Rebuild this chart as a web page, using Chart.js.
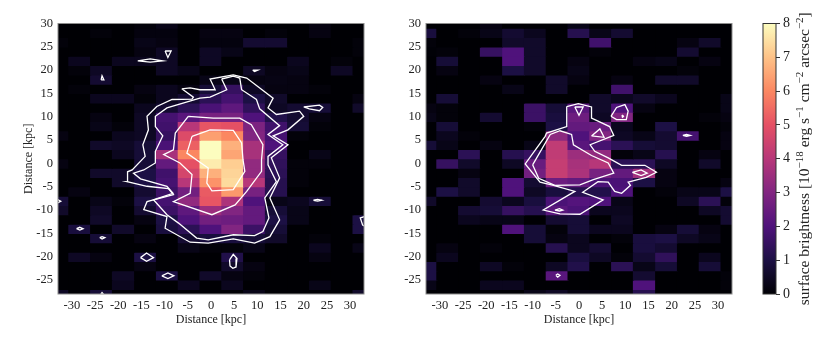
<!DOCTYPE html>
<html>
<head>
<meta charset="utf-8">
<script src="https://cdn.jsdelivr.net/npm/chart.js@4"></script>
<style>
  html, body { margin: 0; padding: 0; background: #fff; }
  canvas { position: absolute; top: 0; }
</style>
</head>
<body>
<canvas id="leftMap" style="left:0"></canvas>
<canvas id="rightMap" style="left:368px"></canvas>
<canvas id="colorBar" style="left:740px"></canvas>
<script>
// 셀 중심 좌표 (kpc)
const columnKpc = [-33, -28.3, -23.6, -18.9, -14.1, -9.4, -4.7, 0, 4.7, 9.4, 14.1, 18.9, 23.6, 28.3, 33];
const rowKpc = [30, 28, 26, 24, 22, 20, 18, 16, 14, 12, 10, 8, 6, 4, 2, 0, -2, -4, -6, -8, -10, -12, -14, -16, -18, -20, -22, -24, -26, -28];
const barTicks = [0, 1, 2, 3, 4, 5, 6, 7, 8];

// 왼쪽 패널 밝기, 위에서 아래로
const leftRows = [
  [0, 0, 0, 0, .1, .3, 0, 0, 0, 0, 0, 0, .2, 0, 0],
  [0, 0, .1, 0, .15, .15, 0, .2, .2, 0, .1, 0, .2, 0, 0],
  [.1, 0, 0, 0, .3, .2, 0, .15, .15, .7, .7, 0, 0, 0, .1],
  [0, 0, 0, 0, .2, .5, 0, .5, .3, 0, 0, 0, 0, 0, .1],
  [0, .4, 0, .4, .4, .5, 0, .5, 0, 0, 0, .4, 0, .1, 0],
  [0, .1, .5, 0, 0, .5, .3, 0, 0, .5, .2, .3, 0, .5, 0],
  [0, 0, .7, 0, 0, 0, 0, .3, .3, .2, .25, .2, 0, 0, 0],
  [0, .1, 0, 0, .2, .4, .2, .8, 1.5, .5, .2, .2, .1, 0, 0],
  [0, 0, .4, .4, .1, .4, .7, 1.3, 1.8, 1, .6, 0, 0, 0, .2],
  [0, 0, 0, 0, .4, .7, 1.3, 1.9, 2.3, 1.4, .5, .7, .8, 0, .6],
  [0, 0, .2, 0, .5, 1.8, 2.2, 2.8, 2.8, 2, 1.1, .7, .2, 0, 0],
  [0, 0, .3, .1, .5, 1.7, 4, 5.1, 5, 2.9, 1.7, .8, .1, 0, 0],
  [.2, 0, 0, .4, .5, 1.5, 4.8, 6.4, 6, 3, 1.8, .1, 0, 0, 0],
  [0, 0, .6, .5, .8, 1.9, 5.3, 8, 6.7, 3.7, 2, 0, 0, 0, 0],
  [0, 0, 0, .4, .8, 3.7, 6, 8, 6.5, 3.7, 1.5, 0, .3, 0, 0],
  [.2, 0, 0, 0, .8, 2.4, 5, 7.7, 7.2, 3.3, 1.4, .1, .1, 0, 0],
  [0, 0, .6, .6, 1, 1.7, 4.6, 6.7, 7.3, 3.3, 1.3, .1, 0, 0, 0],
  [0, 0, 0, .6, 1, 1.8, 4, 6.2, 7.4, 4, 1.2, .1, 0, 0, 0],
  [0, .2, 0, 0, .7, 1.6, 2.7, 5.2, 6.3, 2.8, 1.2, 0, 0, 0, 0],
  [.8, 0, .3, .1, 1, 1.8, 3.3, 5.1, 3.8, 2, .3, .4, .8, 0, 0],
  [.6, 0, .5, 0, .7, 1.6, 2.3, 3.5, 3, 2.4, .8, .3, 0, 0, 0],
  [0, 0, .6, 0, .2, 1, 2, 2.7, 2.6, 2.4, 1, .3, 0, 0, 1],
  [0, .9, 0, .6, 0, .9, 1.3, 2, 3, 1.6, .8, 0, 0, 0, 1],
  [0, 0, .8, 0, .2, 0, .7, .9, .9, .8, .6, 0, .1, 0, 0],
  [0, 0, 0, 0, 0, 0, .3, .1, .1, .3, 0, 0, .4, 0, .3],
  [0, .5, .2, 0, 1, 0, 0, 0, 1.1, 0, 0, 0, .2, 0, 0],
  [0, 0, 0, 0, .2, 0, 0, 0, .6, .2, 0, 0, 0, 0, 0],
  [0, 0, 0, .5, 0, 1, 0, .6, .2, .1, 0, 0, 0, 0, 0],
  [0, 0, 0, .4, 0, 0, .4, 0, .4, 0, 0, 0, .3, 0, 0],
  [.5, 0, .8, 0, 0, 0, 0, 0, 0, .3, 0, 0, 0, 0, .6]
];

// 오른쪽 패널 밝기
const rightRows = [
  [0, 0, 0, .2, 0, 0, 0, .3, 0, 0, 0, 0, 0, 0, 0],
  [.9, 0, .1, .3, .7, .4, 0, 1.2, .3, .7, 0, 0, 0, 0, 0],
  [.1, 0, 0, 0, .6, .6, 0, 0, 1.7, 0, 0, 0, .2, .6, 0],
  [.05, .1, 0, 1.5, 2, .6, 0, 0, .1, 0, 0, 0, .7, 0, 0],
  [0, .8, 0, 0, 2, .6, 0, .2, 0, 0, .2, .3, 0, .2, 0],
  [0, .2, 0, 0, 1, .6, 0, .3, 0, 0, 0, 0, .1, 0, 0],
  [0, 0, 0, .2, 0, 0, .6, .2, 0, .2, 0, .6, .6, 0, 0],
  [0, 0, 0, 0, .3, 0, .6, 0, 0, 1.7, 0, 0, 0, 0, 0],
  [0, .8, 0, 0, 0, 0, 0, 0, .6, .4, .6, .4, 0, 0, .3],
  [.2, .1, 0, 0, 0, 1.6, .8, 2.2, .6, 2, .2, 0, 0, 0, .3],
  [.3, .1, 0, .7, 0, 1.6, .9, 2.6, .5, 3, 0, 0, 0, .1, .2],
  [0, .8, 0, 0, 0, .1, 1, 2.4, 2.5, .4, 0, 1, 0, 0, .1],
  [0, .4, .1, 0, 0, 0, 3.2, 2, 3, .5, .3, .7, 1.8, 0, .2],
  [.8, .3, 0, .2, 0, .3, 4.2, 2.2, 1.8, 1.3, .8, .7, 0, 0, .2],
  [0, 0, 1.3, 0, 1.2, 1.5, 4.2, 3.5, 3.3, .1, .3, 1.2, 0, .2, 0],
  [0, 1.5, .6, 0, .5, 2.5, 4.3, 3.7, 4, 1.3, 1.3, .5, 0, .6, 0],
  [0, 0, .2, 0, 0, 2.7, 4.3, 3.8, 2.8, 2.4, 3.6, .2, 0, 0, 0],
  [0, 0, .6, 0, 2, .7, 2.6, 2.4, 1.9, 1.9, 1, .2, 0, 0, .2],
  [0, 1, .6, 0, 2, .5, .9, 1.2, 1.1, 2, 0, .1, .3, .3, 1],
  [.6, 0, 0, .7, .4, .9, 1.9, 2.1, 2, .3, 0, 0, .5, 1.3, .1],
  [0, 0, .7, .8, 1.5, 1.2, 2.2, 1.9, .4, .4, 0, 0, 0, .5, .7],
  [0, 0, .4, .3, .3, 0, .7, .8, 0, .5, 0, 0, 0, 0, .7],
  [0, 0, 0, 0, 2, .8, .1, .8, .4, .4, 0, .2, .8, .2, 0],
  [0, 0, 0, 0, 0, .8, .2, .4, 0, .1, .9, 1, .5, .3, 0],
  [0, .2, 0, .1, 0, 0, 1.2, .4, .7, 0, .9, .7, 0, 0, 0],
  [0, .4, 0, 0, 0, 0, 0, .9, .5, .1, .7, 1.4, 0, .4, 0],
  [1, 0, 0, .5, .1, 0, .5, 1.1, 0, 1.3, .3, .8, 0, .8, 0],
  [1, 0, 0, 0, 0, 0, 2.2, 0, 0, 0, .7, 0, 0, 0, .1],
  [.3, 0, 0, .4, .4, 0, 0, 0, 0, 0, 2, 0, 0, 0, .1],
  [0, 0, 0, 0, 0, .3, .5, .2, .2, .2, 1.2, 0, 0, 0, 0]
];

// 등고선 꼭짓점 (kpc)
const leftContours = [
  [[-6.3, 16], [-4.5, 16.2], [-2.4, 15.8], [.9, 15.8], [-.2, 18.1], [4.8, 19], [7.7, 18.3], [13.4, 14], [12.3, 11.9], [14.1, 10.5], [19.1, 11.2], [20, 10.1], [16.6, 7.2], [13.4, 5.9], [16.6, 4], [13, 1.2], [14.8, -3.1], [12.7, -7.4], [14.8, -12.1], [12.7, -15.7], [9.4, -17.1], [4.8, -16.2], [-.6, -17.1], [-4.5, -16.9], [-9.9, -13.9], [-9.5, -11.4], [-14.5, -9.9], [-13.8, -8.2], [-8.1, -6.7], [-9.2, -5.4], [-13.8, -4.9], [-18.1, -3.9], [-18, -1.8], [-17, -1.4], [-14.2, 1.5], [-14.7, 4], [-13.5, 7.2], [-13.8, 10.1], [-11.7, 12.2], [-8.4, 13.7], [-4.1, 13.8], [-3.8, 14.2]],
  [[2.3, 18.1], [4.8, 18.7], [6.2, 18.3], [6.6, 15.8], [9.8, 13.7], [10.5, 11.7], [14.8, 8.1], [12.3, 6.2], [15.5, 4], [12.3, 1.5], [12.3, -.3], [14.1, -3.9], [11.6, -7.4], [12.5, -11.7], [11.2, -14.6], [9.4, -15.5], [4.8, -15.3], [-.6, -16.4], [-3.1, -16], [-7, -12.8], [-9.5, -11], [-12.4, -7.8], [-8.2, -6.4], [-9.5, -4.9], [-15.2, -3.3], [-16.7, -2.1], [-14.5, -1.4], [-12, .1], [-12, 2.6], [-10.4, 5.9], [-12, 7.9], [-12, 10.1], [-9.5, 11.9], [-2.4, 14], [-.2, 14.2], [3.4, 15.8]],
  [[-4.9, 10.1], [.5, 9.7], [6.2, 9.7], [8.7, 8.3], [11.2, 4], [10.9, .8], [10.9, -1.7], [7.7, -6], [5.2, -8.9], [.2, -11], [-8.1, -8.2], [-4.5, -6.4], [-4.1, -2.4], [-6.7, .1], [-10.2, 1.9], [-8.1, 2.9], [-7.7, 6.5]],
  [[-4.1, 5.8], [-.2, 7.2], [4.8, 7.1], [6.6, 4.4], [6.9, .8], [7.3, -1.7], [4.8, -5.6], [.2, -5.9], [-.9, -4.2], [-.6, -1], [-5.2, 2.2]],
  [[-15.8, 22], [-13.1, 22.4], [-10.4, 22], [-13.1, 21.7]],
  [[-9.9, 24.1], [-8.6, 24.1], [-9.3, 22.7]],
  [[-23.7, 17.9], [-23.1, 17.9], [-23.5, 18.8]],
  [[9, 20], [10.1, 20], [9.4, 19.7]],
  [[20, 12.1], [23.4, 12.5], [24.1, 12], [23.4, 11.3], [21.2, 11.7]],
  [[-29, -14], [-28.3, -13.7], [-27.6, -14], [-28.3, -14.3]],
  [[-24, -15.9], [-23.5, -15.7], [-22.9, -15.9], [-23.5, -16.2]],
  [[-15.2, -20.2], [-13.9, -19.2], [-12.4, -20.2], [-13.9, -21]],
  [[-10.6, -24.1], [-9.3, -23.5], [-8, -24.1], [-9.3, -24.7]],
  [[4, -20.7], [4.8, -19.5], [5.6, -20.4], [5.4, -22.2], [4.7, -22.5], [4.1, -22]],
  [[22.1, -7.9], [23, -7.7], [23.9, -7.9], [23, -8.1]],
  [[33.7, -11.2], [32.2, -11.7], [32.7, -13.2], [33.7, -13.8]],
  [[-33.3, -7.6], [-32.4, -8.1], [-33.3, -8.6]],
  [[-24, -28.4], [-23.5, -27.7], [-22.9, -28.4]]
];

const rightContours = [
  [[-2.65, 12.2], [-.15, 12.8], [2.7, 12.1], [2.7, 9.7], [6.6, 7.9], [7.5, 6], [2.4, 4], [3.4, 2.6], [6.3, 1.2], [9.2, -.4], [14.2, -.4], [16.7, -1.9], [14.5, -3], [10.6, -4], [11.1, -4.7], [9.2, -6.4], [7.7, -6], [6.3, -4], [4.1, -3.9], [.8, -6.2], [5.2, -7.8], [.2, -10.9], [-4.1, -10.8], [-7.7, -10], [-.9, -6], [-5.5, -4.7], [-8.4, -4], [-11.6, -.1], [-7.3, 5.8], [-7, 6.5], [-2.65, 7.9]],
  [[-10, -.3], [-6.2, 6.2], [-4.1, 7], [-1.6, 6.2], [-1.2, 4], [2.7, 1.7], [6.3, .1], [7.5, -2.1], [3.1, -3.5], [.2, -4.6], [-5.2, -4.7], [-8.7, -3.2]],
  [[-.9, 12.1], [.9, 12.1], [0, 10.3]],
  [[6.9, 10.1], [8.1, 12], [9.9, 12.6], [10.6, 11.2], [10.2, 9.4], [8.1, 9.4]],
  [[9.2, 10.1], [9.4, 10.3], [9.6, 10.1], [9.4, 9.9]],
  [[2.7, 5.9], [4.5, 7.4], [5.4, 5.6]],
  [[11.5, -1.9], [13.4, -1.4], [14.7, -2.1], [13.4, -2.6]],
  [[-5.2, -10], [-4.2, -9.7], [-3.5, -10], [-4.2, -10.2]],
  [[22.4, 6], [23.2, 6.2], [24, 6], [23.2, 5.8]],
  [[-5, -24], [-4.6, -23.7], [-4.1, -24], [-4.6, -24.4]]
];

// magma 컬러맵 (0~8)
const MAGMA = [[0, 0, 4], [28, 16, 68], [79, 18, 123], [129, 37, 129], [183, 55, 121], [229, 80, 100], [251, 135, 97], [254, 194, 135], [252, 253, 191]];

function magma(v) {
    const t = Math.max(0, Math.min(8, v));
    const i = Math.min(7, Math.floor(t));
    const f = t - i;
    const c = MAGMA[i].map((a, k) => Math.round(a + (MAGMA[i + 1][k] - a) * f));
    return `rgb(${c[0]}, ${c[1]}, ${c[2]})`;
}

const SERIF = "'Liberation Serif', 'Times New Roman', serif";

const frame = {
    id: 'frame',
    beforeDatasetsDraw(chart) {
        const a = chart.chartArea;
        const c = chart.ctx;
        c.save();
        c.fillStyle = '#000004';
        c.fillRect(a.left, a.top, a.right - a.left, a.bottom - a.top);
        c.restore();
    },
    afterDatasetsDraw(chart, args, opts) {
        const a = chart.chartArea;
        const c = chart.ctx;
        c.save();
        c.strokeStyle = opts.color;
        c.lineWidth = 1;
        c.strokeRect(a.left, a.top, a.right - a.left, a.bottom - a.top);
        c.restore();
    }
};

function heatmapDatasets(rows, contours) {
    const sets = [];
    contours.forEach(line => {
        const pts = line.concat([line[0]]).map(p => ({ x: p[0], y: p[1] }));
        sets.push({
            type: 'scatter',
            data: pts,
            showLine: true,
            borderColor: '#fff',
            borderWidth: 1.3,
            pointRadius: 0,
            order: 0
        });
    });
    rows.forEach((row, r) => {
        sets.push({
            type: 'bar',
            data: columnKpc.map(x => ({ x: x, y: [rowKpc[r] - 1, rowKpc[r] + 1] })),
            backgroundColor: row.map(magma),
            barPercentage: 1,
            categoryPercentage: 1,
            inflateAmount: 0.6,
            grouped: false,
            order: 1
        });
    });
    return sets;
}

function mapOptions(yTitle, leftWidth, rightPad) {
    return {
        responsive: false,
        animation: false,
        events: [],
        layout: { padding: { top: 23.5, right: rightPad, bottom: 0, left: 0 } },
        plugins: { legend: { display: false }, tooltip: { enabled: false }, frame: { color: '#8c8c8c' } },
        scales: {
            x: {
                type: 'linear',
                min: -33,
                max: 33,
                offset: false,
                grid: { display: false, offset: false, drawTicks: false },
                border: { display: false },
                ticks: { stepSize: 5, includeBounds: false, autoSkip: false, maxRotation: 0, padding: 4, color: '#222', font: { family: SERIF, size: 12.5 } },
                title: { display: true, text: 'Distance [kpc]', color: '#222', padding: { top: 0, bottom: 14 }, font: { family: SERIF, size: 12 } },
                afterFit(s) { s.height = 47; }
            },
            y: {
                type: 'linear',
                min: -28,
                max: 30,
                grid: { display: false, drawTicks: false },
                border: { display: false },
                ticks: { stepSize: 5, includeBounds: false, autoSkip: false, padding: 5, color: '#222', font: { family: SERIF, size: 12.5 } },
                title: { display: yTitle, text: 'Distance [kpc]', color: '#222', padding: { top: 21.5, bottom: 0 }, font: { family: SERIF, size: 12 } },
                afterFit(s) { s.width = leftWidth; }
            }
        }
    };
}

function makeMap(id, rows, contours, yTitle, leftWidth, width, rightPad) {
    const el = document.getElementById(id);
    el.width = width;
    el.height = 341;
    return new Chart(el.getContext('2d'), {
        type: 'bar',
        data: { datasets: heatmapDatasets(rows, contours) },
        options: mapOptions(yTitle, leftWidth, rightPad),
        plugins: [frame]
    });
}

makeMap('leftMap', leftRows, leftContours, true, 58, 368, 4);
makeMap('rightMap', rightRows, rightContours, false, 58, 368, 4);

// 컬러바 라벨: 위첨자 때문에 조각으로 나눠 그린다
const barLabelParts = [
    ['surface brightness [10', false], ['\u221218', true], [' erg s', false], ['\u22121', true],
    [' cm', false], ['\u22122', true], [' arcsec', false], ['\u22122', true], [']', false]
];

const barLabel = {
    id: 'barLabel',
    afterDraw(chart) {
        const c = chart.ctx;
        const a = chart.chartArea;
        const big = `15.5px ${SERIF}`;
        const small = `11px ${SERIF}`;
        let total = 0;
        barLabelParts.forEach(p => {
            c.font = p[1] ? small : big;
            total += c.measureText(p[0]).width;
        });
        c.save();
        c.translate(69, (a.top + a.bottom) / 2);
        c.rotate(-Math.PI / 2);
        c.fillStyle = '#222';
        c.textBaseline = 'alphabetic';
        let x = -total / 2;
        barLabelParts.forEach(p => {
            c.font = p[1] ? small : big;
            c.fillText(p[0], x, p[1] ? -6 : 0);
            x += c.measureText(p[0]).width;
        });
        c.restore();
    }
};

const barEl = document.getElementById('colorBar');
barEl.width = 90;
barEl.height = 341;
new Chart(barEl.getContext('2d'), {
    type: 'bar',
    data: {
        labels: [''],
        datasets: [{
            data: [[0, 8]],
            barPercentage: 1,
            categoryPercentage: 1,
            backgroundColor(ctx) {
                const a = ctx.chart.chartArea;
                if (!a) return '#000';
                const g = ctx.chart.ctx.createLinearGradient(0, a.bottom, 0, a.top);
                MAGMA.forEach((m, i) => g.addColorStop(i / 8, `rgb(${m[0]}, ${m[1]}, ${m[2]})`));
                return g;
            }
        }]
    },
    options: {
        responsive: false,
        animation: false,
        events: [],
        layout: { padding: { top: 23.5, right: 0, bottom: 47, left: 23 } },
        plugins: { legend: { display: false }, tooltip: { enabled: false }, frame: { color: '#333' } },
        scales: {
            x: { display: false },
            y: {
                position: 'right',
                min: 0,
                max: 8,
                afterBuildTicks(s) { s.ticks = barTicks.map(v => ({ value: v })); },
                grid: { drawOnChartArea: false, tickLength: 4, tickColor: '#333' },
                border: { display: false },
                ticks: { padding: 3, color: '#222', font: { family: SERIF, size: 14 } },
                afterFit(s) { s.width = 54; }
            }
        }
    },
    plugins: [frame, barLabel]
});
</script>
</body>
</html>
